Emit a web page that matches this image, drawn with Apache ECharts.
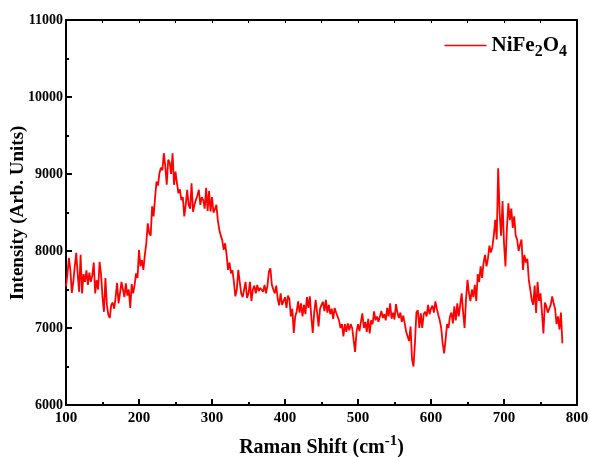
<!DOCTYPE html>
<html>
<head>
<meta charset="utf-8">
<script src="https://cdn.jsdelivr.net/npm/echarts@6/dist/echarts.min.js"></script>
<style>html,body{margin:0;padding:0;background:#fff}#c{width:590px;height:457px}</style>
</head>
<body>
<div id="c"></div>
<script>
// Raman shift (cm-1), step 2 from 100 to 780
const ramanShift = [];
for (let x = 100; x <= 780; x += 2) ramanShift.push(x);
const intensity = [
 7540,7700,7910,7750,7456,7600,7800,7976,7700,7470,
 7950,7450,7700,7600,7750,7560,7720,7600,7680,7850,
 7450,7620,7500,7860,7700,7400,7210,7650,7300,7170,
 7130,7300,7330,7250,7400,7585,7320,7450,7600,7500,
 7400,7580,7420,7500,7260,7570,7450,7560,7710,7650,
 8015,7800,7880,7755,7950,8100,8360,8230,8200,8580,
 8450,8690,8900,8850,9010,9080,9050,9270,9100,8860,
 9185,9150,9000,9270,8860,9030,8880,8750,8800,8660,
 8700,8450,8600,8795,8600,8550,8880,8510,8600,8665,
 8720,8795,8600,8700,8660,8550,8820,8520,8780,8515,
 8700,8500,8540,8600,8400,8275,8200,8145,8015,8100,
 7950,7755,7850,7710,7750,7600,7410,7500,7755,7600,
 7450,7400,7500,7600,7390,7450,7600,7350,7500,7550,
 7450,7560,7480,7520,7500,7470,7560,7450,7550,7735,
 7775,7560,7500,7450,7550,7380,7295,7450,7300,7350,
 7400,7260,7420,7380,7150,7250,6935,7150,7215,7345,
 7200,7320,7150,7300,7180,7400,7260,7410,7150,6935,
 7200,7365,7200,7020,7250,7300,7340,7220,7365,7200,
 7300,7180,7250,7120,7260,7200,7150,7100,7000,7050,
 6890,7050,6950,7060,6970,7050,7000,6980,6690,6950,
 7050,6960,7080,7190,7000,7080,6950,7120,6930,7100,
 7050,7215,7100,7150,7080,7150,7220,7130,7180,7100,
 7260,7150,7320,7120,7200,7110,7310,7200,7130,7200,
 7080,7160,7060,6950,6890,6830,7020,6600,6500,6800,
 7200,7230,7000,7190,7000,7180,7210,7150,7300,7180,
 7250,7290,7200,7345,7250,7170,7100,7000,6800,6670,
 6850,7050,7000,7150,7200,7060,7280,7100,7320,7150,
 7300,7450,7200,7000,7380,7625,7450,7350,7500,7400,
 7560,7350,7700,7600,7800,7650,7850,7950,7800,7900,
 8070,7980,8050,8200,8405,8150,9075,8500,8200,8650,
 8100,7800,8300,8620,8400,8550,8300,8450,8200,8150,
 8000,8080,8150,7755,7950,7850,7900,7625,7500,7365,
 7300,7550,7195,7600,7350,7450,7200,6930,7330,7280,
 7200,7250,7300,7410,7320,7250,7050,7150,6980,7200,
 6800
];
const seriesName = 'NiFe2O4';
const yTitle = 'Intensity (Arb. Units)';
const xTicks = [100, 800, 100];
const yTicks = [6000, 11000, 1000];

const data = ramanShift.map((x, i) => [x, intensity[i]]);
const font = 'Liberation Serif';
const axisLine = { show: true, onZero: false, lineStyle: { color: '#000', width: 2 } };
const chart = echarts.init(document.getElementById('c'), null, { renderer: 'canvas' });
chart.setOption({
  animation: false,
  backgroundColor: '#fff',
  grid: { left: 66, right: 13, top: 20, bottom: 52, containLabel: false, outerBoundsMode: 'none' },
  graphic: [{
    type: 'text', x: 18, y: 213, rotation: Math.PI / 2,
    style: { text: yTitle, fontFamily: font, fontWeight: 'bold', fontSize: 19, fill: '#000',
      align: 'center', verticalAlign: 'middle', textAlign: 'center', textVerticalAlign: 'middle' }
  }],
  legend: {
    right: 18, top: 30,
    icon: 'rect',
    itemWidth: 42, itemHeight: 1.5, itemGap: 6,
    data: [seriesName],
    formatter: () => '{a|NiFe}{s|2}{a|O}{s|4}',
    textStyle: {
      rich: {
        a: { fontFamily: font, fontWeight: 'bold', fontSize: 21, color: '#000' },
        s: { fontFamily: font, fontWeight: 'bold', fontSize: 16, color: '#000', padding: [13, 0, 0, 0] }
      }
    }
  },
  xAxis: [{
    type: 'value', min: xTicks[0], max: xTicks[1], interval: xTicks[2],
    name: '{a|Raman Shift (cm}{s|-1}{a|)}', nameLocation: 'middle', nameGap: 29,
    nameTextStyle: { rich: {
      a: { fontFamily: font, fontWeight: 'bold', fontSize: 20, color: '#000' },
      s: { fontFamily: font, fontWeight: 'bold', fontSize: 15, color: '#000', padding: [0, 0, 13, 0] }
    } },
    axisLine: axisLine,
    axisTick: { inside: true, length: 6, lineStyle: { color: '#000', width: 2 } },
    minorTick: { show: true, splitNumber: 2, length: 3, lineStyle: { color: '#000', width: 2 } },
    splitLine: { show: false },
    axisLabel: { fontFamily: font, fontWeight: 'bold', fontSize: 15, color: '#000', margin: 6, formatter: v => String(v) }
  }, {
    type: 'value', position: 'top', min: xTicks[0], max: xTicks[1], interval: xTicks[2] / 2,
    axisLine: axisLine,
    axisTick: { inside: true, length: 3, lineStyle: { color: '#000', width: 1 } },
    axisLabel: { show: false }, splitLine: { show: false }
  }],
  yAxis: [{
    type: 'value', min: yTicks[0], max: yTicks[1], interval: yTicks[2],
    axisLine: axisLine,
    axisTick: { inside: true, length: 6, lineStyle: { color: '#000', width: 2 } },
    minorTick: { show: true, splitNumber: 2, length: 3, lineStyle: { color: '#000', width: 2 } },
    splitLine: { show: false },
    axisLabel: { fontFamily: font, fontWeight: 'bold', fontSize: 14, color: '#000', margin: 3, formatter: v => String(v) }
  }, {
    type: 'value', position: 'right', min: yTicks[0], max: yTicks[1], interval: yTicks[2],
    axisLine: axisLine,
    axisTick: { show: false },
    axisLabel: { show: false }, splitLine: { show: false }
  }],
  series: [{
    name: seriesName, type: 'line', data: data, symbol: 'none',
    lineStyle: { color: '#ff0000', width: 1.8 }, itemStyle: { color: '#ff0000' }
  }]
});
</script>
</body>
</html>
